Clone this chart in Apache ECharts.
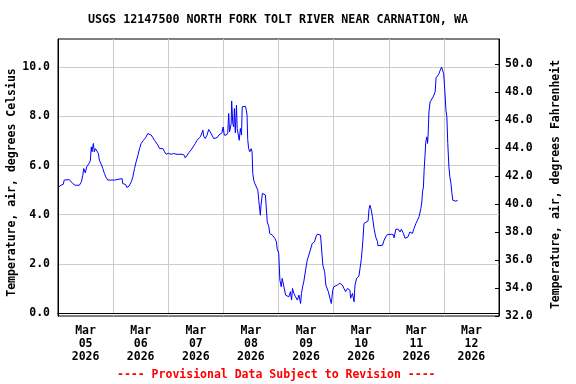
<!DOCTYPE html>
<html><head><meta charset="utf-8">
<script src="https://cdn.jsdelivr.net/npm/echarts@6/dist/echarts.min.js"></script>
<style>html,body{margin:0;padding:0;background:#fff}#c{width:576px;height:384px}</style>
</head><body><div id="c"></div>
<script>
const titleText = 'USGS 12147500 NORTH FORK TOLT RIVER NEAR CARNATION, WA';
const leftAxisName = 'Temperature, air, degrees Celsius';
const rightAxisName = 'Temperature, air, degrees Fahrenheit';
const footnote = '---- Provisional Data Subject to Revision ----';
const dayLabels = ['Mar\n05\n2026','Mar\n06\n2026','Mar\n07\n2026','Mar\n08\n2026','Mar\n09\n2026','Mar\n10\n2026','Mar\n11\n2026','Mar\n12\n2026'];
const celsiusTicks = [0, 2, 4, 6, 8, 10];
// hours since 2026-03-05 00:00
const hoursSinceStart = [
0.3,1.3,2.3,2.7,4.9,5.7,6.4,7.5,9.3,10.2,10.8,11.2,11.9,12.5,13.2,13.7,14.1,14.5,14.8,15.4,15.8,16.3,17.0,17.6,18.0,18.8,19.5,20.2,20.9,21.7,
24.6,25.0,27.9,28.2,29.4,30.0,30.9,31.9,32.6,33.3,34.0,34.8,35.5,36.2,37.2,38.1,39.1,39.8,40.6,41.3,42.0,42.8,43.5,44.2,45.7,46.4,47.1,48.0,
49.3,50.3,51.8,54.0,55.0,55.4,56.2,56.9,57.9,58.8,59.8,60.5,61.2,62.0,62.7,63.1,63.4,64.1,64.9,65.6,66.3,67.1,67.8,68.5,69.3,70.0,70.7,71.4,71.9,
72.4,73.3,73.9,74.3,74.7,75.4,75.6,76.1,76.5,76.8,77.2,77.7,78.0,78.4,78.9,79.4,79.9,80.2,80.9,81.6,82.0,82.3,82.6,83.0,83.5,84.1,84.5,84.8,85.2,
85.7,86.4,87.0,87.4,87.8,88.1,88.4,89.0,89.6,90.3,90.9,91.1,91.8,92.2,93.3,94.0,94.4,95.1,95.4,96.1,96.6,97.2,97.6,98.3,99.1,99.8,100.5,101.2,
101.7,102.1,102.7,103.4,104.2,104.9,105.6,106.0,106.5,107.0,107.8,108.5,109.2,110.0,110.7,111.7,112.3,112.9,113.6,114.3,115.1,115.3,116.1,116.6,
117.3,117.7,118.4,119.0,119.6,120.1,120.9,121.6,122.7,123.8,124.5,125.2,126.0,127.1,127.4,128.2,128.9,129.3,130.0,131.0,131.5,132.1,132.7,133.2,
134.0,135.0,135.4,135.8,136.4,136.9,137.6,138.3,139.1,139.3,141.3,142.0,142.7,143.4,144.1,145.2,146.1,146.3,147.1,148.1,148.9,149.5,150.4,151.1,
151.9,152.4,153.2,153.9,154.3,155.0,155.8,156.5,157.2,158.0,158.4,158.7,159.1,159.4,159.8,160.1,160.6,160.9,161.1,161.5,162.0,162.8,163.3,163.8,
164.2,164.6,165.3,165.9,166.4,167.0,167.4,167.9,168.4,168.9,169.3,169.7,170.2,170.6,171.1,171.5,171.9,172.5,173.2,174.0
];
const tempC = [
5.13,5.2,5.24,5.41,5.43,5.47,5.27,5.2,5.2,5.34,5.61,5.88,5.7,5.95,6.02,6.11,6.22,6.76,6.56,6.9,6.56,6.69,6.63,6.49,6.22,6.06,5.88,5.68,5.52,5.41,
5.41,5.47,5.47,5.27,5.23,5.11,5.16,5.34,5.54,5.88,6.15,6.42,6.69,6.9,7.03,7.13,7.3,7.37,7.24,7.17,7.03,6.96,6.83,6.69,6.69,6.56,6.46,6.5,
6.46,6.49,6.46,6.46,6.42,6.31,6.42,6.52,6.63,6.76,6.9,7.03,7.1,7.17,7.17,7.44,7.2,7.1,7.24,7.47,7.37,7.37,7.1,7.03,7.14,7.24,7.17,7.33,7.57,
7.24,7.24,7.33,8.12,7.37,7.71,8.63,7.71,7.57,8.32,7.33,8.46,7.51,7.44,7.03,7.51,7.24,8.39,8.41,8.41,8.25,8.05,7.06,6.69,6.56,6.69,6.56,5.68,5.41,
5.27,5.2,5.0,4.59,4.52,3.98,4.39,4.87,4.93,4.8,4.8,3.71,3.51,3.24,3.17,3.21,3.04,2.9,2.63,2.43,1.34,1.07,1.41,1.34,0.73,0.8,0.66,0.87,
0.53,1.0,0.8,0.66,0.53,0.73,0.39,0.8,1.07,1.27,1.75,2.15,2.36,2.43,2.83,2.9,3.1,3.21,3.27,3.17,3.1,1.95,1.68,1.14,
1.07,0.87,0.6,0.39,0.93,1.07,1.0,1.14,1.21,1.14,1.0,0.87,1.0,0.93,0.6,0.8,0.46,1.14,1.41,1.5,1.82,2.22,2.9,3.64,
3.71,3.75,4.22,4.39,4.19,3.92,3.44,3.1,2.9,2.74,2.76,2.97,3.1,3.2,3.18,3.2,3.18,3.06,3.41,3.41,3.3,3.41,3.24,3.04,
3.01,3.1,3.3,3.37,3.24,3.44,3.64,3.78,3.92,4.26,4.52,4.93,5.13,5.81,6.42,6.94,7.17,6.9,7.17,8.18,8.59,8.66,8.79,8.73,
9.0,9.57,9.65,9.74,9.88,10.01,10.05,9.74,9.07,8.25,7.98,6.9,5.95,5.54,5.27,4.87,4.59,4.52,4.55,4.58
];
const seriesData = hoursSinceStart.map((h, i) => [h, tempC[i]]);
const FONT = '"DejaVu Sans Mono", monospace';
const txt = {fontFamily: FONT, fontWeight: 'bold', fontSize: 11.5, color: '#000'};
const chart = echarts.init(document.getElementById('c'), null, {renderer: 'canvas'});
chart.setOption({
  animation: false,
  backgroundColor: '#fff',
  title: {text: titleText, left: 278, top: 14, textAlign: 'center', padding: 0,
    textStyle: Object.assign({}, txt, {fontSize: 11.7})},
  grid: {left: 58, top: 39, right: 77, bottom: 68, show: true, borderColor: '#000', borderWidth: 1,
    outerBoundsMode: 'none', containLabel: false},
  xAxis: [
    {type: 'category', data: dayLabels, boundaryGap: true, position: 'bottom',
     axisLine: {show: true, lineStyle: {color: '#000', width: 1}},
     axisTick: {show: false},
     axisLabel: Object.assign({}, txt, {interval: 0, margin: 9, lineHeight: 12.7}),
     splitLine: {show: true, lineStyle: {color: '#cccccc', width: 1}}},
    {type: 'value', min: 0, max: 192, show: false}
  ],
  yAxis: [
    {type: 'value', min: -0.12, max: 11.15, position: 'left',
     name: leftAxisName, nameLocation: 'middle', nameGap: 40, nameRotate: 90, nameMoveOverlap: false,
     nameTextStyle: Object.assign({}, txt, {padding: [0, 10, 0, 0]}),
     axisLine: {show: true, lineStyle: {color: '#000'}},
     axisTick: {show: false, customValues: celsiusTicks},
     axisLabel: Object.assign({}, txt, {margin: 8, customValues: celsiusTicks,
       formatter: v => v.toFixed(1)}),
     splitLine: {show: true, lineStyle: {color: '#cccccc', width: 1}}},
    {type: 'value', min: 32, max: 51.8, interval: 2, position: 'right',
     name: rightAxisName, nameLocation: 'middle', nameGap: 51, nameRotate: 90, nameMoveOverlap: false,
     nameTextStyle: Object.assign({}, txt, {padding: [0, 14, 0, 0]}),
     axisLine: {show: true, lineStyle: {color: '#000'}},
     axisTick: {show: true, inside: true, length: 4, lineStyle: {color: '#000'}},
     axisLabel: Object.assign({}, txt, {margin: 6, showMaxLabel: false,
       formatter: v => v.toFixed(1)}),
     splitLine: {show: false}}
  ],
  graphic: [{type: 'text', left: 117, top: 369, style: {text: footnote, font: 'bold 11.5px ' + FONT, fill: '#ff0000'}}],
  series: [{type: 'line', xAxisIndex: 1, yAxisIndex: 0, data: seriesData, showSymbol: false,
    lineStyle: {color: '#0000ff', width: 1}, itemStyle: {color: '#0000ff'}}]
});
</script></body></html>
